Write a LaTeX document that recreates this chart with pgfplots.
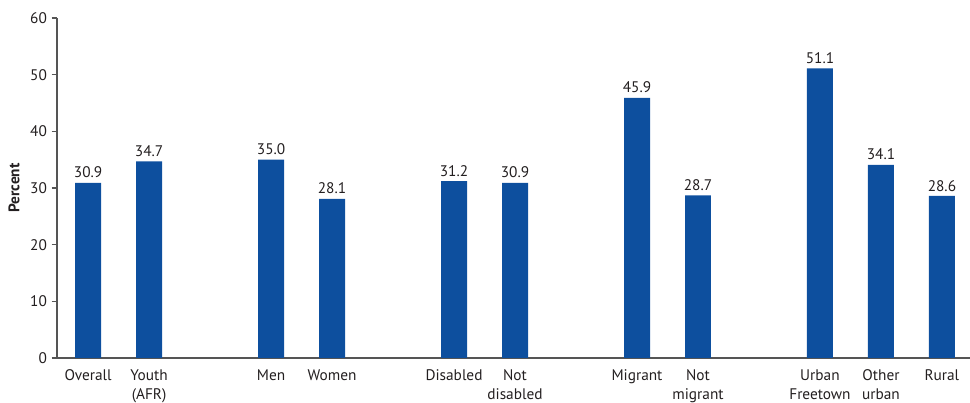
\documentclass[border=0pt]{standalone}
\usepackage{pgfplots}
\pgfplotsset{compat=1.18}
\usepackage{fontspec}
\setmainfont{PT Sans}
\definecolor{barblue}{HTML}{0D4F9E}
\definecolor{txt}{HTML}{231F20}
\definecolor{axgray}{HTML}{555555}
\begin{document}
\begin{tikzpicture}
\begin{axis}[
  scale only axis,
  width=684.75pt, height=255pt,
  xmin=-0.51, xmax=14.46,
  ymin=0, ymax=60,
  axis x line=bottom, axis y line=left,
  axis line style={axgray, line width=0.9pt, -},
  ytick={0,10,...,60},
  xtick={0,1,3,4,6,7,9,10,12,13,14},
  xticklabels={Overall, Youth\\(AFR), Men, Women, Disabled, Not\\disabled, Migrant, Not\\migrant, Urban\\Freetown, Other\\urban, Rural},
  x tick label style={align=center, font=\fontsize{11.5}{14}\selectfont, text=txt, yshift=-1.5pt},
  major x tick style={draw=none},
  y tick label style={font=\fontsize{11.5}{12}\selectfont, text=txt},
  ytick style={axgray, line width=0.8pt},
  tick align=outside, major tick length=4pt,
  ylabel={\bfseries Percent},
  every axis y label/.style={at={(rel axis cs:0,0.5)}, anchor=center, xshift=-32.25pt, rotate=90, font=\fontsize{11.5}{14}\selectfont, text=txt},
  /pgf/number format/assume math mode=true,
  ybar, bar width=0.426, bar shift=0pt,
  nodes near coords,
  nodes near coords style={font=\fontsize{11.5}{12}\selectfont, text=txt, /pgf/number format/.cd, fixed, fixed zerofill, precision=1, assume math mode=true},
  clip=false,
]
\addplot[fill=barblue, draw=none] coordinates {
 (0,30.9) (1,34.7) (3,35.0) (4,28.1) (6,31.2) (7,30.9) (9,45.9) (10,28.7) (12,51.1) (13,34.1) (14,28.6)};
\coordinate (ll) at (rel axis cs:0,0);
\coordinate (ur) at (rel axis cs:1,1);
\end{axis}
\pgfresetboundingbox
\path ([shift={(-42.75pt,-33.75pt)}]ll) rectangle ([shift={(0pt,13.5pt)}]ur);
\end{tikzpicture}
\end{document}
